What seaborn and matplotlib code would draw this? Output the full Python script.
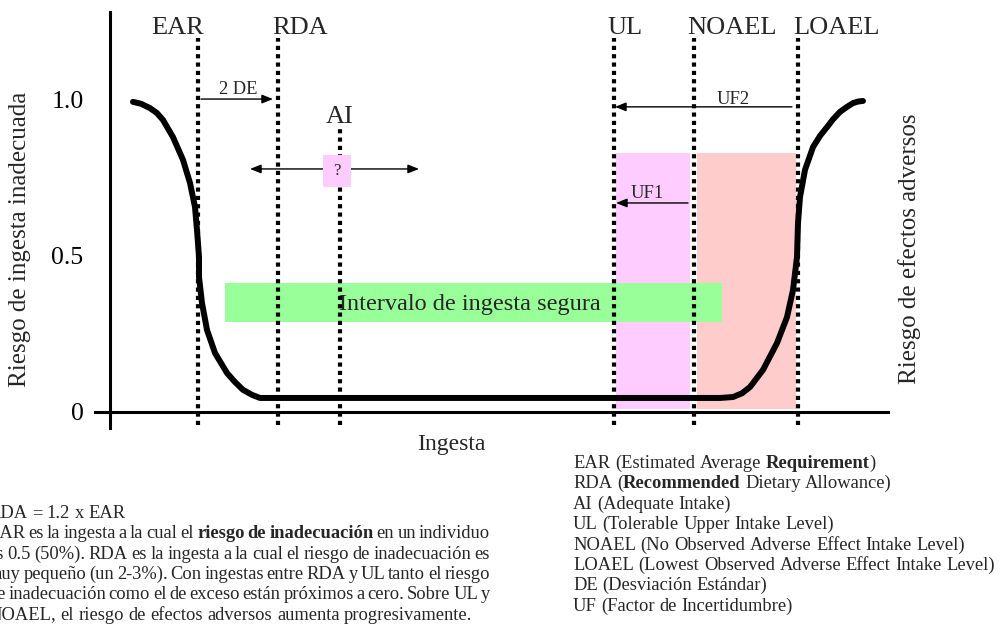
import matplotlib
matplotlib.use("Agg")
import matplotlib.pyplot as plt
import matplotlib.transforms as mtransforms
import seaborn as sns
import numpy as np
import pandas as pd

# ---------------- data (intake in arbitrary units, risk 0..1) ----------------
# risk curve: left branch (inadequacy), plateau, right branch (adverse effects)
curve_x = [2.3, 3.1, 4.0, 4.7, 5.3, 6.3, 7.3, 8.0, 8.5, 8.7, 8.9, 8.9, 9.2, 9.7, 10.5, 11.7, 12.5, 13.3, 14.2, 15.0,
           61.0, 62.3, 63.2, 64.0, 65.3, 66.7, 67.7, 68.3, 68.7, 68.8, 69.0, 69.5, 70.3, 71.0, 71.7, 72.3, 73.0,
           73.7, 74.3, 74.8, 75.3]
curve_y = [0.994, 0.988, 0.974, 0.958, 0.936, 0.881, 0.808, 0.734, 0.657, 0.583, 0.497, 0.433, 0.349, 0.263,
           0.189, 0.125, 0.096, 0.071, 0.055, 0.045,
           0.045, 0.048, 0.060, 0.080, 0.135, 0.221, 0.304, 0.391, 0.497, 0.606, 0.689, 0.776, 0.849, 0.885,
           0.913, 0.938, 0.962, 0.978, 0.990, 0.995, 0.997]

marker_names = ["EAR", "RDA", "AI", "UL", "NOAEL", "LOAEL"]
marker_x = [8.8, 16.8, 23.0, 50.4, 58.4, 68.8]
marker_top = [1.199, 1.199, 0.913, 1.199, 1.199, 1.199]
marker_bottom = [-0.042, -0.042, -0.042, -0.042, -0.042, -0.042]

safe_label = "Intervalo de ingesta segura"
safe_x = (11.5, 61.2)
safe_y = (0.288, 0.413)

band_left = [50.6, 58.7]
band_right = [58.0, 68.6]
band_bottom = 0.0096
band_top = 0.830
band_colors = ["#FFCCFF", "#FFCCCC"]

# arrows: (start x, end x, y, label)
arrow_2de = (9.1, 16.3, 1.003, "2 DE")
arrow_uf2 = (68.2, 50.5, 0.978, "UF2")
arrow_uf1 = (57.8, 50.6, 0.670, "UF1")
ai_range = (14.0, 30.9, 0.779, "?")

yticks = [0, 0.5, 1.0]
ytick_labels = ["0", "0.5", "1.0"]

ylabel_left = "Riesgo de ingesta inadecuada"
ylabel_right = "Riesgo de efectos adversos"
xlabel = "Ingesta"

note_lines = [
    ([("RDA = 1.2 x EAR", False)], False),
    ([("EAR es la ingesta a la cual el ", False), ("riesgo de inadecuación", True), (" en un individuo", False)], True),
    ([("es 0.5 (50%). RDA es la ingesta a la cual el riesgo de inadecuación es", False)], True),
    ([("muy pequeño (un 2-3%). Con ingestas entre RDA y UL tanto el riesgo", False)], True),
    ([("de inadecuación como el de exceso están próximos a cero. Sobre UL y", False)], True),
    ([("NOAEL, el riesgo de efectos adversos aumenta progresivamente.", False)], False),
]
gloss_lines = [
    [("EAR (Estimated Average ", False), ("Requirement", True), (")", False)],
    [("RDA (", False), ("Recommended", True), (" Dietary Allowance)", False)],
    [("AI (Adequate Intake)", False)],
    [("UL (Tolerable Upper Intake Level)", False)],
    [("NOAEL (No Observed Adverse Effect Intake Level)", False)],
    [("LOAEL (Lowest Observed Adverse Effect Intake Level)", False)],
    [("DE (Desviación Estándar)", False)],
    [("UF (Factor de Incertidumbre)", False)],
]

# ---------------- figure ----------------
sns.set_theme(style="white")
plt.rcParams["font.family"] = ["Liberation Serif", "DejaVu Serif"]

W, H = 1000, 631
fig = plt.figure(figsize=(W / 100, H / 100), dpi=100)
ax = fig.add_axes([0, 0, 1, 1])
ax.set_xlim(-11, 89)
ax.set_ylim(-219 / 312, 412 / 312)
ax.patch.set_alpha(0)

PX = mtransforms.Affine2D().scale(1 / W, -1 / H).translate(0, 1) + fig.transFigure

# bands (uncertainty factors)
for l, r, c in zip(band_left, band_right, band_colors):
    ax.bar(l, band_top - band_bottom, width=r - l, bottom=band_bottom, align="edge",
           color=c, edgecolor="none", zorder=1)

# safe intake interval
ax.barh((safe_y[0] + safe_y[1]) / 2, safe_x[1] - safe_x[0], height=safe_y[1] - safe_y[0],
        left=safe_x[0], color="#99FF99", edgecolor="none", zorder=2)
ax.text((safe_x[0] + safe_x[1]) / 2 - 0.4, 0.327, safe_label, ha="center", va="baseline",
        fontsize=17.5, zorder=7)

# dotted reference lines
ax.vlines(marker_x, marker_bottom, marker_top, colors="black", linewidth=3.0,
          linestyles=[(0, (1, 1))], zorder=3)

label_x = [6.8, 19.0, 23.0, 51.5, 62.2, 72.6]
label_y = [1.2115, 1.2115, 0.926, 1.2115, 1.2115, 1.2115]
for name, lx, ly in zip(marker_names, label_x, label_y):
    ax.text(lx, ly, name, ha="center", va="baseline", fontsize=19, zorder=7)

# risk curve
df = pd.DataFrame({"ingesta": curve_x, "riesgo": curve_y})
sns.lineplot(data=df, x="ingesta", y="riesgo", sort=False, estimator=None, ax=ax,
             color="black", linewidth=4.3, solid_capstyle="round", solid_joinstyle="round",
             zorder=4)

# arrows
def arrow(x0, x1, y, style):
    ax.annotate("", xy=(x1, y), xytext=(x0, y),
                arrowprops=dict(arrowstyle=style, color="black", lw=1.0,
                                shrinkA=0, shrinkB=0, mutation_scale=12),
                zorder=5)

head = "-|>,head_length=0.55,head_width=0.22"
arrow(arrow_2de[0], arrow_2de[1], arrow_2de[2], head)
ax.text(12.8, 1.019, arrow_2de[3], ha="center", va="baseline", fontsize=13.3, zorder=7)
arrow(arrow_uf2[0], arrow_uf2[1], arrow_uf2[2], head)
ax.text(62.3, 0.987, arrow_uf2[3], ha="center", va="baseline", fontsize=13.3, zorder=7)
arrow(arrow_uf1[0], arrow_uf1[1], arrow_uf1[2], head)
ax.text(53.7, 0.686, arrow_uf1[3], ha="center", va="baseline", fontsize=13.3, zorder=7)
arrow(ai_range[0], ai_range[1], ai_range[2], "<|-|>,head_length=0.55,head_width=0.22")

# "?" box on AI
ax.bar(21.3, 0.824 - 0.721, width=2.8, bottom=0.721, align="edge",
       color="#FFCCFF", edgecolor="none", zorder=6)
ax.text(22.7, 0.772, ai_range[3], ha="center", va="center", fontsize=12, zorder=7)

# axes
for s in ["top", "right"]:
    ax.spines[s].set_visible(False)
ax.spines["left"].set_position(("data", 0))
ax.spines["left"].set_bounds(-16 / 312, 400 / 312)
ax.spines["bottom"].set_position(("data", 0))
ax.spines["bottom"].set_bounds(-1.5, 77.8)
for s in ["left", "bottom"]:
    ax.spines[s].set_linewidth(2.2)
    ax.spines[s].set_color("black")
    ax.spines[s].set_zorder(3)
ax.set_xticks([])
ax.set_yticks(yticks, ytick_labels)
ax.tick_params(axis="y", length=0, pad=19, labelsize=18.5, labelcolor="black")
ax.grid(False)

ax.set_xlabel(xlabel, fontsize=17, va="baseline", ha="center")
ax.xaxis.set_label_coords(0.451, 1 - 450 / H)
ax.set_ylabel(ylabel_left, fontsize=18, va="center", ha="center")
ax.yaxis.set_label_coords(0.020, 1 - 239 / H)
fig.text(910, 249, ylabel_right, transform=PX, rotation=90, ha="center", va="center",
         fontsize=18)

# ---------------- notes with mixed weights ----------------
renderer = fig.canvas.get_renderer()
FS = 13.3


def text_width(s, bold):
    t = fig.text(0, 0, s, transform=PX, fontsize=FS, fontweight="bold" if bold else "normal")
    w = t.get_window_extent(renderer).width
    t.remove()
    return w


SPACE = text_width("a a", False) - text_width("aa", False)


def draw_runs(x0, yb, runs, right=None):
    tokens = []  # (word, bold, space_before)
    pending_space = False
    for txt, bold in runs:
        if txt[:1].isspace():
            pending_space = True
        words = txt.split()
        for i, w in enumerate(words):
            tokens.append([w, bold, pending_space if i == 0 else True])
            pending_space = False
        if txt[-1:].isspace():
            pending_space = True
    if tokens:
        tokens[0][2] = False
    arts, widths = [], []
    for w, b, sp in tokens:
        t = fig.text(0, yb, w, transform=PX, fontsize=FS, va="baseline", ha="left",
                     fontweight="bold" if b else "normal")
        arts.append(t)
        widths.append(t.get_window_extent(renderer).width)
    nsp = sum(1 for tok in tokens if tok[2])
    gap = SPACE
    if right is not None and nsp > 0:
        gap = (right - x0 - sum(widths)) / nsp
    x = x0
    for t, w, tok in zip(arts, widths, tokens):
        if tok[2]:
            x += gap
        t.set_position((x, yb))
        x += w


for i, (runs, just) in enumerate(note_lines):
    draw_runs(-12, 518 + i * 20.3, runs, right=490 if just else None)

for i, runs in enumerate(gloss_lines):
    draw_runs(573, 468 + i * 20.4, runs)

fig.savefig("out.png", dpi=100)
